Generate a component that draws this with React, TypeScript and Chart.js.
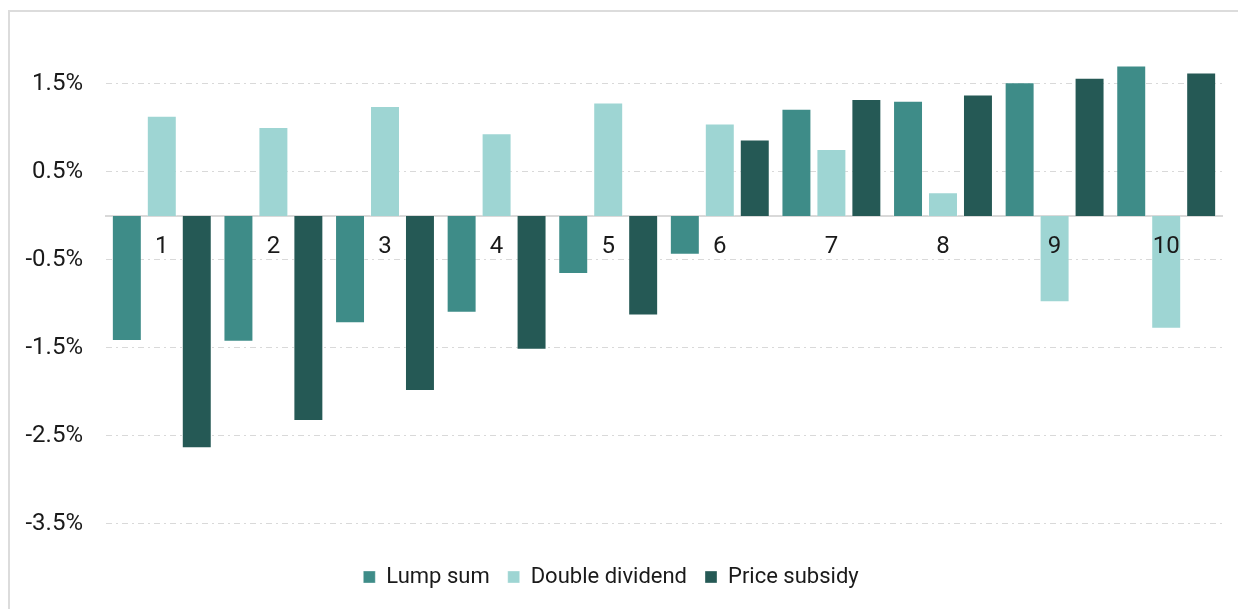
import React, { useEffect, useRef } from "react";
import { Chart, registerables } from "chart.js";

Chart.register(...registerables);

const categories = ["1", "2", "3", "4", "5", "6", "7", "8", "9", "10"];
const lumpSum = [-1.42, -1.43, -1.22, -1.1, -0.66, -0.44, 1.22, 1.31, 1.52, 1.71];
const doubleDividend = [1.14, 1.01, 1.25, 0.94, 1.29, 1.05, 0.76, 0.27, -0.98, -1.28];
const priceSubsidy = [-2.64, -2.33, -1.99, -1.52, -1.13, 0.87, 1.33, 1.38, 1.57, 1.63];
const yTicks = [-3.5, -2.5, -1.5, -0.5, 0.5, 1.5];
const seriesNames = ["Lump sum", "Double dividend", "Price subsidy"];

const COLORS = ["#3e8c88", "#9ed5d3", "#255955"];
const FONT = "Roboto, 'Noto Sans', sans-serif";

export default function App() {
  const ref = useRef<HTMLCanvasElement | null>(null);

  useEffect(() => {
    if (!ref.current) return;
    const series = [lumpSum, doubleDividend, priceSubsidy];
    const chart = new Chart(ref.current, {
      type: "bar",
      data: {
        labels: categories,
        datasets: series.map((d, i) => ({
          label: seriesNames[i],
          data: d,
          backgroundColor: COLORS[i],
          borderColor: "rgba(255,255,255,0.35)",
          borderWidth: 1,
          categoryPercentage: 0.94,
          barPercentage: 0.857,
        })),
      },
      options: {
        responsive: false,
        animation: false,
        layout: { padding: { top: 40, right: 16, left: 0, bottom: 11 } },
        plugins: {
          tooltip: { enabled: false },
          legend: {
            position: "bottom",
            labels: {
              boxWidth: 12,
              boxHeight: 12,
              padding: 18,
              color: "#1a1a1a",
              font: { family: FONT, size: 22 },
            },
          },
        },
        scales: {
          x: {
            position: { y: 0 } as any,
            grid: { display: false, drawTicks: false },
            border: { display: true, color: "#d9d9d9", width: 2 },
            ticks: {
              z: 1,
              padding: 17,
              color: "#1a1a1a",
              font: { family: FONT, size: 24 },
              maxRotation: 0,
              autoSkip: false,
            },
          },
          y: {
            min: -3.773,
            max: 2.0,
            afterBuildTicks: (s: any) => {
              s.ticks = yTicks.map((v) => ({ value: v }));
            },
            afterFit: (s: any) => {
              s.width = 106;
            },
            border: { display: false, dash: [6, 4, 2, 4] },
            grid: {
              color: "#d9d9d9",
              lineWidth: 1,
              drawTicks: false,
            },
            ticks: {
              padding: 23,
              color: "#1a1a1a",
              font: { family: FONT, size: 24 },
              callback: (v: any) => Number(v).toFixed(1) + "%",
            },
          },
        },
      },
    });
    return () => chart.destroy();
  }, []);

  return (
    <>
      <div
        style={{
          position: "absolute",
          left: 8,
          top: 10,
          width: 1230,
          height: 599,
          boxSizing: "border-box",
          borderTop: "2px solid #dcdcdc",
          borderLeft: "2px solid #dcdcdc",
        }}
      />
      <canvas
        ref={ref}
        width={1238}
        height={609}
        style={{ position: "absolute", left: 0, top: 0, width: 1238, height: 609 }}
      />
    </>
  );
}
